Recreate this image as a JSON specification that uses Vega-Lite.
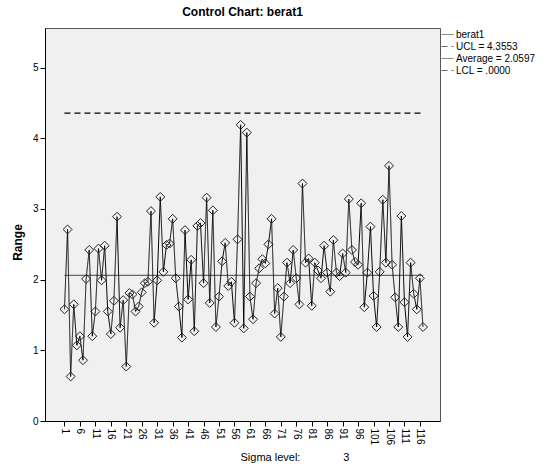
{
  "$schema": "https://vega.github.io/schema/vega-lite/v6.json",
  "width": 395,
  "height": 393,
  "autosize": {"type": "none"},
  "padding": {"left": 45, "top": 28, "right": 111, "bottom": 47},
  "background": "white",
  "title": {"text": "Control Chart: berat1", "font": "Liberation Sans", "fontSize": 12, "fontWeight": "bold", "color": "black", "anchor": "middle", "offset": 9},
  "config": {
    "font": "Liberation Sans",
    "view": {"fill": "#f0f0f0", "stroke": "#555555", "strokeWidth": 1},
    "axis": {"labelFont": "Liberation Sans", "labelFontSize": 10, "labelColor": "black", "tickColor": "black", "domainColor": "black", "grid": false, "titleFont": "Liberation Sans", "titleColor": "black"},
    "axisX": {"labelOverlap": false, "labelBound": false, "labelFlush": false},
    "legend": {"labelFont": "Liberation Sans", "labelFontSize": 10, "labelColor": "black"}
  },
  "datasets": {
    "ranges": [
      {"n": 1, "range": 1.58}, {"n": 2, "range": 2.71}, {"n": 3, "range": 0.63}, {"n": 4, "range": 1.65}, {"n": 5, "range": 1.07},
      {"n": 6, "range": 1.2}, {"n": 7, "range": 0.86}, {"n": 8, "range": 2.01}, {"n": 9, "range": 2.42}, {"n": 10, "range": 1.2},
      {"n": 11, "range": 1.55}, {"n": 12, "range": 2.44}, {"n": 13, "range": 1.99}, {"n": 14, "range": 2.48}, {"n": 15, "range": 1.55},
      {"n": 16, "range": 1.23}, {"n": 17, "range": 1.7}, {"n": 18, "range": 2.89}, {"n": 19, "range": 1.32}, {"n": 20, "range": 1.71},
      {"n": 21, "range": 0.77}, {"n": 22, "range": 1.81}, {"n": 23, "range": 1.79}, {"n": 24, "range": 1.55}, {"n": 25, "range": 1.62},
      {"n": 26, "range": 1.82}, {"n": 27, "range": 1.95}, {"n": 28, "range": 1.97}, {"n": 29, "range": 2.97}, {"n": 30, "range": 1.39},
      {"n": 31, "range": 1.99}, {"n": 32, "range": 3.17}, {"n": 33, "range": 2.11}, {"n": 34, "range": 2.49}, {"n": 35, "range": 2.51},
      {"n": 36, "range": 2.86}, {"n": 37, "range": 2.02}, {"n": 38, "range": 1.62}, {"n": 39, "range": 1.18}, {"n": 40, "range": 2.7},
      {"n": 41, "range": 1.72}, {"n": 42, "range": 2.28}, {"n": 43, "range": 1.27}, {"n": 44, "range": 2.76}, {"n": 45, "range": 2.8},
      {"n": 46, "range": 1.95}, {"n": 47, "range": 3.16}, {"n": 48, "range": 1.67}, {"n": 49, "range": 2.98}, {"n": 50, "range": 1.33},
      {"n": 51, "range": 1.76}, {"n": 52, "range": 2.26}, {"n": 53, "range": 2.52}, {"n": 54, "range": 1.91}, {"n": 55, "range": 1.97},
      {"n": 56, "range": 1.39}, {"n": 57, "range": 2.57}, {"n": 58, "range": 4.19}, {"n": 59, "range": 1.31}, {"n": 60, "range": 4.08},
      {"n": 61, "range": 1.76}, {"n": 62, "range": 1.44}, {"n": 63, "range": 1.95}, {"n": 64, "range": 2.16}, {"n": 65, "range": 2.29},
      {"n": 66, "range": 2.23}, {"n": 67, "range": 2.5}, {"n": 68, "range": 2.86}, {"n": 69, "range": 1.52}, {"n": 70, "range": 1.88},
      {"n": 71, "range": 1.19}, {"n": 72, "range": 1.76}, {"n": 73, "range": 2.24}, {"n": 74, "range": 1.95}, {"n": 75, "range": 2.42},
      {"n": 76, "range": 2.02}, {"n": 77, "range": 1.65}, {"n": 78, "range": 3.36}, {"n": 79, "range": 2.24}, {"n": 80, "range": 2.3},
      {"n": 81, "range": 1.63}, {"n": 82, "range": 2.24}, {"n": 83, "range": 2.13}, {"n": 84, "range": 2.02}, {"n": 85, "range": 2.48},
      {"n": 86, "range": 2.1}, {"n": 87, "range": 1.83}, {"n": 88, "range": 2.56}, {"n": 89, "range": 2.1}, {"n": 90, "range": 2.05},
      {"n": 91, "range": 2.37}, {"n": 92, "range": 2.1}, {"n": 93, "range": 3.14}, {"n": 94, "range": 2.42}, {"n": 95, "range": 2.25},
      {"n": 96, "range": 2.21}, {"n": 97, "range": 3.08}, {"n": 98, "range": 1.61}, {"n": 99, "range": 2.1}, {"n": 100, "range": 2.75},
      {"n": 101, "range": 1.77}, {"n": 102, "range": 1.33}, {"n": 103, "range": 2.11}, {"n": 104, "range": 3.13}, {"n": 105, "range": 2.24},
      {"n": 106, "range": 3.61}, {"n": 107, "range": 2.21}, {"n": 108, "range": 1.75}, {"n": 109, "range": 1.33}, {"n": 110, "range": 2.9},
      {"n": 111, "range": 1.68}, {"n": 112, "range": 1.19}, {"n": 113, "range": 2.24}, {"n": 114, "range": 1.8}, {"n": 115, "range": 1.58},
      {"n": 116, "range": 2.02}, {"n": 117, "range": 1.33}
    ],
    "ucl": [
      {"label": "UCL = 4.3553", "value": 4.3553, "start": 1, "end": 117}
    ],
    "avg": [
      {"label": "Average = 2.0597", "value": 2.0597, "start": 1, "end": 117}
    ]
  },
  "layer": [
    {
      "data": {"name": "ucl"},
      "mark": {"type": "rule", "strokeWidth": 1.3, "color": "black"},
      "encoding": {
        "x": {"field": "start", "type": "quantitative", "scale": {"domain": [-5.3, 122.5], "nice": false, "zero": false},
          "axis": {"values": [1, 6, 11, 16, 21, 26, 31, 36, 41, 46, 51, 56, 61, 66, 71, 76, 81, 86, 91, 96, 101, 106, 111, 116], "tickCount": 40, "format": "d", "labelAngle": 90, "labelOverlap": false, "tickSize": 5, "labelPadding": 2,
            "title": "Sigma level:\u00a0\u00a0\u00a0\u00a0\u00a0\u00a0\u00a0\u00a0\u00a0\u00a0\u00a0\u00a0\u00a0\u00a03", "titleFontSize": 11, "titleFontWeight": "normal", "titleAnchor": "start", "titleAlign": "left", "titleX": 195, "titleY": 30, "titleBaseline": "top"}},
        "x2": {"field": "end"},
        "y": {"field": "value", "type": "quantitative", "scale": {"domain": [0, 5.56], "nice": false},
          "axis": {"values": [0, 1, 2, 3, 4, 5], "format": "d", "tickSize": 5, "labelPadding": 2, "title": "Range", "titleFontSize": 12, "titleFontWeight": "bold", "titlePadding": 8, "titleY": 214}},
        "strokeDash": {"field": "label", "type": "nominal",
          "scale": {"domain": ["berat1", "UCL = 4.3553", "Average = 2.0597", "LCL = .0000"], "range": [[1, 0], [6, 4], [1, 0], [6, 4]]},
          "legend": {"title": null, "orient": "right", "offset": 1, "padding": 0, "rowPadding": 0, "symbolType": "stroke", "symbolSize": 144, "symbolStrokeWidth": 1, "symbolStrokeColor": "black", "labelOffset": 2}}
      }
    },
    {
      "data": {"name": "avg"},
      "mark": {"type": "rule", "strokeWidth": 1.3, "color": "#666666"},
      "encoding": {
        "x": {"field": "start", "type": "quantitative"},
        "x2": {"field": "end"},
        "y": {"field": "value", "type": "quantitative"},
        "strokeDash": {"field": "label", "type": "nominal"}
      }
    },
    {
      "data": {"name": "ranges"},
      "mark": {"type": "line", "color": "black", "strokeWidth": 1},
      "encoding": {
        "x": {"field": "n", "type": "quantitative"},
        "y": {"field": "range", "type": "quantitative"},
        "strokeDash": {"datum": "berat1"}
      }
    },
    {
      "data": {"name": "ranges"},
      "mark": {"type": "point", "shape": "diamond", "size": 80, "filled": false, "stroke": "#222222", "strokeWidth": 1, "opacity": 1},
      "encoding": {
        "x": {"field": "n", "type": "quantitative"},
        "y": {"field": "range", "type": "quantitative"}
      }
    }
  ]
}
